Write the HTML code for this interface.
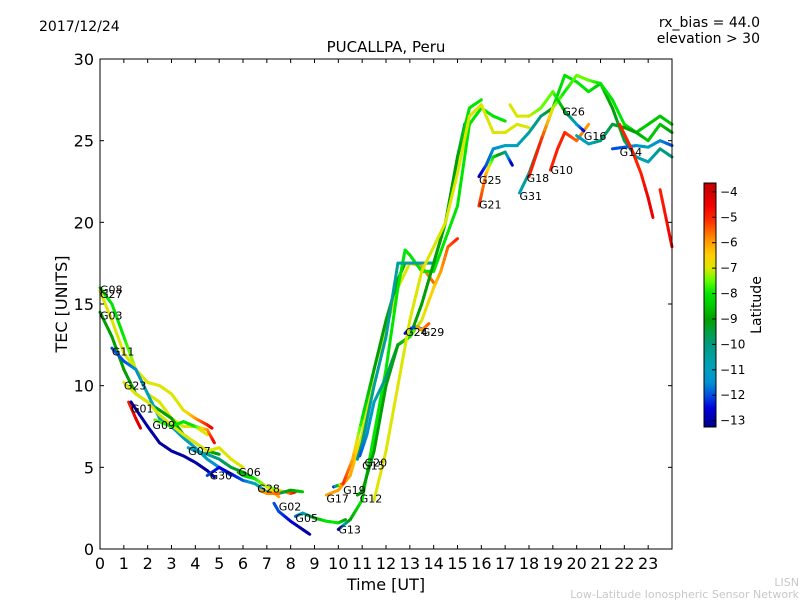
<!DOCTYPE html>
<html><head><meta charset="utf-8"><style>
body{margin:0;background:#fff;}
svg{font-family:"DejaVu Sans","Liberation Sans",sans-serif;}
</style></head><body>
<svg id="chart" width="800" height="600" xmlns="http://www.w3.org/2000/svg">
<defs>
<linearGradient id="jet" x1="0" y1="1" x2="0" y2="0"></linearGradient>
</defs>
<text x="39" y="31" font-size="14">2017/12/24</text>
<text x="760" y="27" font-size="14" text-anchor="end">rx_bias = 44.0</text>
<text x="760" y="43" font-size="14" text-anchor="end">elevation &gt; 30</text>
<text x="386" y="52" font-size="15" text-anchor="middle">PUCALLPA, Peru</text>
<text x="386" y="590" font-size="16" text-anchor="middle">Time [UT]</text>
<text transform="translate(67,304) rotate(-90)" font-size="16" text-anchor="middle">TEC [UNITS]</text>
<text x="799" y="586" font-size="11" fill="#c8c8c8" text-anchor="end">LISN</text>
<text x="799" y="598" font-size="11" fill="#c8c8c8" text-anchor="end">Low-Latitude Ionospheric Sensor Network</text>
<g id="marks"></g>
<g id="labels"></g>
<rect x="100" y="59" width="572" height="490" fill="none" stroke="#000" stroke-width="1"/>
<g id="axes"></g>
<rect x="704" y="183" width="12" height="244" fill="url(#jet)" stroke="#000" stroke-width="1"/>
<g id="cbar"></g>
<text transform="translate(761,305) rotate(-90)" font-size="14" text-anchor="middle">Latitude</text>
</svg>
<script>
const xTicks=[0,1,2,3,4,5,6,7,8,9,10,11,12,13,14,15,16,17,18,19,20,21,22,23];
const yTicks=[0,5,10,15,20,25,30];
const cTicks=[-4,-5,-6,-7,-8,-9,-10,-11,-12,-13];
const satNames=["G08","G27","G03","G11","G23","G01","G01b","G09","G07","G30","G06","G28","G02","G05","G17","G19","G13","G15","G12","G20","G24","G29","Y1","G25","G21","G31","G18","G10","G26","G16","G14","R1","R2"];
const satTimes=[
[0,0.5,1,1.5,2,2.5,3,3.5,4,4.5,4.7],
[0,0.5,1,1.5,2,2.5,3,3.5,4,4.5],
[0,0.5,1,1.5,2,2.5,3,3.5,4,4.5,5],
[0.5,1,1.5,2,2.5,3,3.5,4,4.5,5,5.5],
[1,1.5,2,2.5,3,3.5,4,4.5,5,5.5,6],
[1.2,1.5,1.7],
[1.3,2,2.5,3,3.5,4,4.5,4.8],
[2.3,3,3.5,4,4.5,4.8],
[3.7,4,4.5,5,5.5,6,6.5,7,7.5,8,8.2],
[4.5,5,5.5,6,6.5,7,7.5,8,8.5],
[5.8,6,6.5,7,7.5],
[6.7,7,7.5],
[7.3,7.5,8,8.5,8.8],
[8.2,8.5,9,9.5,10,10.3],
[9.5,10,10.5,11,11.5,12,12.5,13,13.5,14],
[9.8,10.2,10.6,11,11.5,12,12.5,12.8],
[10,10.5,11,11.5,12,12.5,12.8,13,13.5,14,14.5,15,15.5,16,16.5,17],
[10.8,11,11.5,12,12.5,13,13.5,14,14.5,15,15.3,15.5],
[10.8,11,11.5,12,12.5,13,13.5,14,14.5,15,15.5,16],
[10.9,11.2,11.5,12,12.5,13,13.5,14,14.3,14.6,15],
[12.8,13,13.3,13.6],
[13.3,13.5,13.8],
[11.5,12,12.5,13,13.5,14,14.5,15,15.5,16,16.5,17,17.5,18],
[15.9,16.2,16.5,17,17.5,18,18.5,19],
[15.9,16.2,16.5,17,17.3],
[17.6,18,18.5,19,19.5,20,20.5,21,21.5,22,22.5,23,23.5,24],
[18,18.5,19,19.5,20,20.5,21,21.5,22,22.5,23,23.5,24],
[18.9,19.2,19.5,20,20.5],
[17.2,17.5,18,18.5,19,19.5,20,20.3],
[20,20.5,21,21.5,22,22.5,23,23.5,24],
[21.5,22,22.5,23,23.5,24],
[21.8,22.3,22.7,23,23.2],
[23.5,24]];
const satTec=[
[16,15,13,11,10.2,10,9.5,8.5,8,7.6,7.4],
[15.8,14,12,11,9.5,9,8,7.5,7.5,7],
[14.5,13,11,9.5,9,8.5,8,7,6.5,6,5.8],
[12.3,11.5,11,9.5,8,7.5,6.8,6.2,5.5,5,4.5],
[10.2,9.5,9,8.2,7.6,7,6.5,6,6.2,5.5,5],
[9,8,7.4],
[9,7.5,6.5,6,5.7,5.3,4.8,4.4],
[7.9,7.5,7.8,7.5,7.3,6.5],
[6.2,6,5.8,5.5,5,4.7,4.3,3.8,3.6,3.4,3.5],
[4.5,5,4.6,4.2,4,3.5,3.4,3.6,3.5],
[4.7,4.5,4.3,3.8,3.2],
[3.6,3.4,3.4],
[2.8,2.3,1.7,1.2,0.9],
[2,2.2,1.9,1.7,1.6,1.8],
[3.3,3.6,4.5,7,11,13.5,16,17.5,17.3,16.3],
[3.8,4,5.5,8,11,14,16.5,17.5],
[1.2,1.8,3,7,11,16,18.3,18,17,17,19,21,26,27,26.5,26.2],
[5.5,6.5,10,13,17.5,17.5,17.5,17.5,20,24,26,26.5],
[3.3,3.5,6,10,12.5,13,15,17.5,20,24,27,27.5],
[5.7,7,9,10.5,12.5,13,14,16,17,18.5,19],
[13.2,13.5,13.6,13.4],
[13.6,13.4,13.8],
[3,6,10,14,17,18.5,20,23,26.5,27.2,25.5,25.5,26,25.8],
[22.8,23.5,24.5,24.7,24.7,25.5,26.5,27],
[21,23,24,24.3,23.5],
[21.8,23,25,27,29,28.6,28,28.5,27,25,24,23.7,24.5,24],
[22.8,25,27,28,29,28.7,28.5,27.5,26,25.5,26,26.5,26],
[23.2,24.5,25.5,25,26],
[27.2,26.5,26.5,27,28,26.8,26,25.6],
[25.3,24.8,25,26,25.8,25.5,25,26,25.5],
[24.5,24.6,24.7,24.6,25,24.7],
[26,24.5,23,21.5,20.3],
[22,18.5]];
const satLat=[
[-8,-8,-8,-7,-7,-7,-7,-7,-6,-5,-4.5],
[-7,-7,-7,-7,-7,-7,-7,-7,-7,-7],
[-9,-9,-9,-9,-9,-9,-9,-9,-9,-9,-9],
[-12,-12,-11.5,-11,-11,-11,-11,-11,-11,-11.5,-12],
[-7,-7,-7,-7,-7,-7,-7,-7,-7,-7,-7],
[-5,-4.5,-4],
[-13,-13,-13,-13,-13,-13,-13,-13],
[-7.5,-8,-8,-8,-6,-4.5],
[-11,-11,-10.5,-10,-9.5,-9,-8.5,-8,-7,-5.5,-4.5],
[-12,-12.5,-12.5,-12,-11,-10.5,-10,-9,-8.5],
[-9,-8.5,-8,-7,-6],
[-6,-6,-5.5],
[-12,-12,-12.5,-13,-13],
[-12,-11,-9,-8,-8,-9],
[-6,-6,-6,-7,-7,-7,-7,-7,-6,-5.5],
[-13,-5,-6,-8,-9,-9,-9,-9],
[-13,-9,-8,-8,-8,-8,-8,-8,-8,-8,-8,-8,-8,-8,-8,-8],
[-10,-10,-10.5,-10.5,-10.5,-10.5,-10.5,-10.5,-10,-10,-10,-10],
[-9,-9,-9,-9,-9,-9,-9,-9,-9,-9,-8,-8],
[-12,-11.5,-11,-10,-9,-8,-7,-6.5,-6,-5.5,-5],
[-12.5,-12,-12,-12],
[-6,-6,-5.5],
[-7,-7,-7,-7,-7,-7,-7,-7,-7,-7,-7,-7,-7,-7],
[-13,-12,-11.5,-11,-11,-10.5,-10,-9],
[-5,-6,-8,-10,-13],
[-11,-10,-9.5,-8.5,-8,-8,-8,-8.5,-9,-9.5,-10.5,-11,-10,-10],
[-5,-5,-7,-8,-7.5,-7.5,-8,-8,-8,-8.5,-8.5,-8.5,-8.5],
[-5,-5,-5,-5.5,-6],
[-7,-7,-7,-7.5,-7.5,-9,-11,-12.5],
[-11,-11,-10,-9.5,-9,-9,-8.5,-8.5,-9],
[-12,-12,-11.5,-11,-11.5,-12],
[-5,-5,-5,-4.5,-4.5],
[-5,-4.5]];
const labelNames=["G08","G27","G03","G11","G23","G01","G09","G07","G30","G06","G28","G02","G05","G17","G19","G13","G15","G12","G20","G24","G29","G25","G21","G31","G18","G10","G26","G16","G14"];
const labelT=[0,0,0,0.5,1,1.3,2.2,3.7,4.6,5.8,6.6,7.5,8.2,9.5,10.2,10,11,10.9,11.1,12.8,13.5,15.9,15.9,17.6,17.9,18.9,19.4,20.3,21.8];
const labelV=[15.9,15.6,14.3,12.1,10,8.6,7.6,6,4.5,4.7,3.7,2.6,1.9,3.1,3.6,1.2,5.1,3.1,5.3,13.3,13.3,22.6,21.1,21.6,22.7,23.2,26.8,25.3,24.3];

const X=t=>100+t*572/24, Y=v=>549-v*490/30;
const vmin=-13.25, vmax=-3.65;
const cmapLat=[-13.25,-12.5,-12,-11.5,-11,-10.5,-10,-9.5,-9,-8.5,-8,-7.5,-7,-6.5,-6,-5.5,-5,-4.5,-4,-3.65];
const cmapCol=[[0,0,136],[0,0,221],[0,80,224],[0,144,208],[0,160,192],[0,160,160],[0,154,128],[0,160,64],[0,160,0],[0,200,0],[0,230,0],[96,255,0],[220,230,0],[255,208,0],[255,160,0],[255,96,0],[255,32,0],[238,0,0],[208,0,0],[192,0,0]];
function jet(lat){
  if(lat<=cmapLat[0])return `rgb(${cmapCol[0]})`;
  for(let i=0;i<cmapLat.length-1;i++){
    if(lat<=cmapLat[i+1]){const f=(lat-cmapLat[i])/(cmapLat[i+1]-cmapLat[i]);
      const c=cmapCol[i].map((v,k)=>Math.round(v+(cmapCol[i+1][k]-v)*f));return `rgb(${c})`;}
  }
  return `rgb(${cmapCol[cmapCol.length-1]})`;
}
const NS="http://www.w3.org/2000/svg";
const grad=document.getElementById('jet');
cmapLat.forEach((l,i)=>{const s=document.createElementNS(NS,'stop');
  s.setAttribute('offset',(l-vmin)/(vmax-vmin));s.setAttribute('stop-color',`rgb(${cmapCol[i]})`);grad.appendChild(s);});
const marks=document.getElementById('marks');
satTimes.forEach((ts,i)=>{
  const g=document.createElementNS(NS,'g');
  
  
  for(let j=0;j<ts.length-1;j++){
    const n=6;
    for(let k=0;k<n;k++){
      const a=k/n,b=(k+1)/n;
      const t0=ts[j]+(ts[j+1]-ts[j])*a,t1=ts[j]+(ts[j+1]-ts[j])*b;
      const v0=satTec[i][j]+(satTec[i][j+1]-satTec[i][j])*a,v1=satTec[i][j]+(satTec[i][j+1]-satTec[i][j])*b;
      const l=satLat[i][j]+(satLat[i][j+1]-satLat[i][j])*(a+b)/2;
      const ln=document.createElementNS(NS,'line');
      ln.setAttribute('x1',X(t0));ln.setAttribute('y1',Y(v0));ln.setAttribute('x2',X(t1));ln.setAttribute('y2',Y(v1));
      ln.setAttribute('stroke',jet(l));ln.setAttribute('stroke-width','3');ln.setAttribute('stroke-linecap','round');
      g.appendChild(ln);
    }
  }
  marks.appendChild(g);
});
const labs=document.getElementById('labels');
labelNames.forEach((n,i)=>{
  const t=document.createElementNS(NS,'text');
  
  
  t.setAttribute('x',X(labelT[i]));t.setAttribute('y',Y(labelV[i])+4);
  t.setAttribute('font-size','11');t.textContent=n;labs.appendChild(t);
});
const axes=document.getElementById('axes');
function add(tag,attrs,txt){const e=document.createElementNS(NS,tag);for(const k in attrs)e.setAttribute(k,attrs[k]);if(txt!==undefined)e.textContent=txt;axes.appendChild(e);return e;}
xTicks.forEach(t=>{
  const x=X(t);
  const l1=add('line',{x1:x,x2:x,y1:549,y2:545,stroke:'#000'});
  
  
  add('line',{x1:x,x2:x,y1:59,y2:63,stroke:'#000'});
  const tx=add('text',{x:x,y:569,'font-size':16,'text-anchor':'middle'},t);
  
  
});
yTicks.forEach(v=>{
  const y=Y(v);
  add('line',{x1:100,x2:104,y1:y,y2:y,stroke:'#000'});
  add('line',{x1:668,x2:672,y1:y,y2:y,stroke:'#000'});
  const tx=add('text',{x:94,y:y+6,'font-size':16,'text-anchor':'end'},v);
  
  
});
const cb=document.getElementById('cbar');
cTicks.forEach(v=>{
  const y=183+(vmax-v)/(vmax-vmin)*244;
  const l=document.createElementNS(NS,'line');
  l.setAttribute('x1',712);l.setAttribute('x2',716);l.setAttribute('y1',y);l.setAttribute('y2',y);l.setAttribute('stroke','#000');
  cb.appendChild(l);
  const t=document.createElementNS(NS,'text');
  
  
  t.setAttribute('x',720);t.setAttribute('y',y+4);t.setAttribute('font-size','12');t.textContent='\u2212'+Math.abs(v);
  cb.appendChild(t);
});
</script>
</body></html>
